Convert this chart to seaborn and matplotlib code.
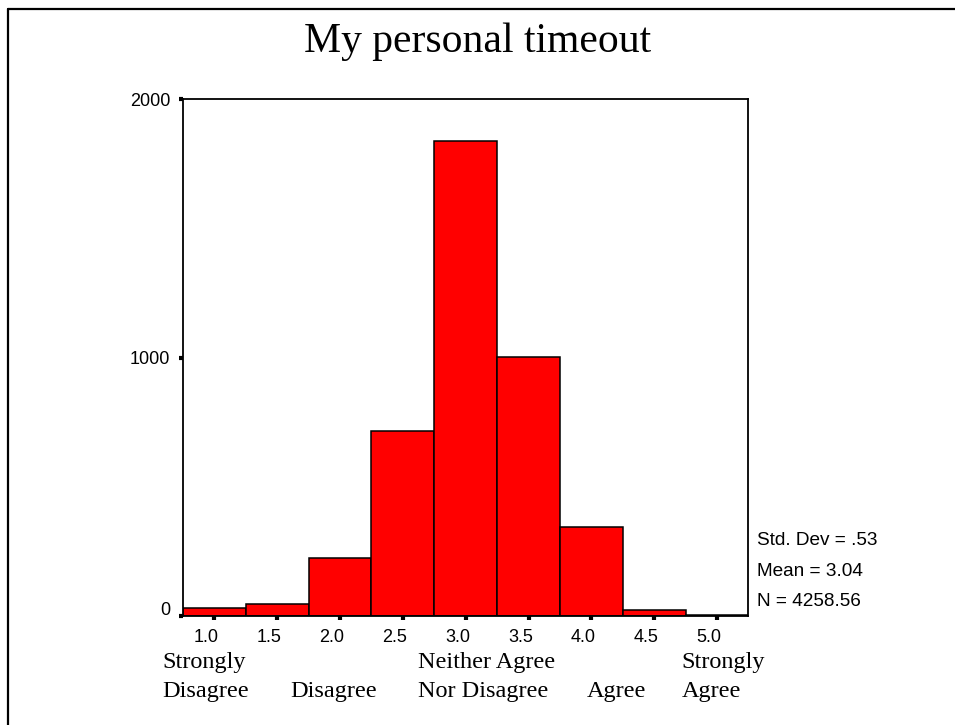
import numpy as np
import pandas as pd
import matplotlib
matplotlib.use("Agg")
import matplotlib.pyplot as plt
import matplotlib.transforms as mtransforms
from matplotlib.lines import Line2D
import seaborn as sns

# histogram data
scores = [1.0, 1.5, 2.0, 2.5, 3.0, 3.5, 4.0, 4.5, 5.0]
counts = [30, 48, 226, 716, 1836, 1003, 343, 23, 5]
tick_labels = ["1.0", "1.5", "2.0", "2.5", "3.0", "3.5", "4.0", "4.5", "5.0"]
y_ticks = [0, 1000, 2000]

# scale labels under the axis
label_x = [0.583, 1.601, 2.62, 3.962, 4.72]
label_top = ["Strongly", "", "Neither Agree", "", "Strongly"]
label_bottom = ["Disagree", "Disagree", "Nor Disagree", "Agree", "Agree"]

stats = ["Std. Dev = .53", "Mean = 3.04", "N = 4258.56"]
title = "My personal timeout"

sns.set_style("white", {"text.color": "black", "xtick.color": "black",
                        "ytick.color": "black", "xtick.bottom": True,
                        "ytick.left": True, "axes.edgecolor": "black"})
plt.rcParams["font.family"] = ["Liberation Sans", "DejaVu Sans"]

df = pd.DataFrame({"score": scores, "count": counts})

fig = plt.figure(figsize=(9.55, 7.25), dpi=100)
ax = fig.add_axes([0.1916, 0.1503, 0.5921, 0.7131])

sns.histplot(data=df, x="score", weights="count", binwidth=0.5,
             binrange=(0.75, 5.25), ax=ax,
             color="#ff0000", alpha=1, edgecolor="black", linewidth=1.1)

ax.set_xlim(0.75, 5.25)
ax.set_ylim(0, 2000)
ax.set_xticks(scores)
ax.set_xticklabels(tick_labels)
ax.set_yticks(y_ticks)
ax.set_yticklabels([str(v) for v in y_ticks])
ax.set_xlabel("")
ax.set_ylabel("")
ax.tick_params(axis="both", direction="out", length=3, width=3,
               color="black", labelsize=13, labelcolor="black",
               bottom=True, left=True)
ax.tick_params(axis="x", pad=6)
ax.tick_params(axis="y", pad=6)
for s in ax.spines.values():
    s.set_visible(True)
    s.set_color("black")
    s.set_linewidth(1.3)

# SPSS puts the x tick labels a bit left of the tick dots
shift = mtransforms.ScaledTranslation(-8 / 100, 0, fig.dpi_scale_trans)
for lab in ax.get_xticklabels():
    lab.set_transform(lab.get_transform() + shift)
# and lifts the 0 label a little
ylabs = ax.get_yticklabels()
ylabs[0].set_transform(ylabs[0].get_transform() +
                       mtransforms.ScaledTranslation(0, 8 / 100, fig.dpi_scale_trans))

fig.text(0.5, 0.942, title, ha="center", va="center", color="black",
         family="Liberation Serif", fontsize=30)

trans = mtransforms.blended_transform_factory(ax.transData, fig.transFigure)
for x, t, b in zip(label_x, label_top, label_bottom):
    ax.text(x, 0.0786, t, transform=trans, ha="left", va="baseline",
            family="Liberation Serif", fontsize=17.5, clip_on=False)
    ax.text(x, 0.0386, b, transform=trans, ha="left", va="baseline",
            family="Liberation Serif", fontsize=17.5, clip_on=False)

for i, s in enumerate(stats):
    fig.text(0.7927, 0.2483 - i * 0.0421, s, ha="left", va="baseline",
             fontsize=13.7)

# page frame: left and top edges only
fig.add_artist(Line2D([0.0084, 0.0084], [0, 0.9876], transform=fig.transFigure,
                      color="black", linewidth=1.6))
fig.add_artist(Line2D([0.0084, 1], [0.9876, 0.9876], transform=fig.transFigure,
                      color="black", linewidth=1.6))

fig.savefig("out.png", dpi=100)
